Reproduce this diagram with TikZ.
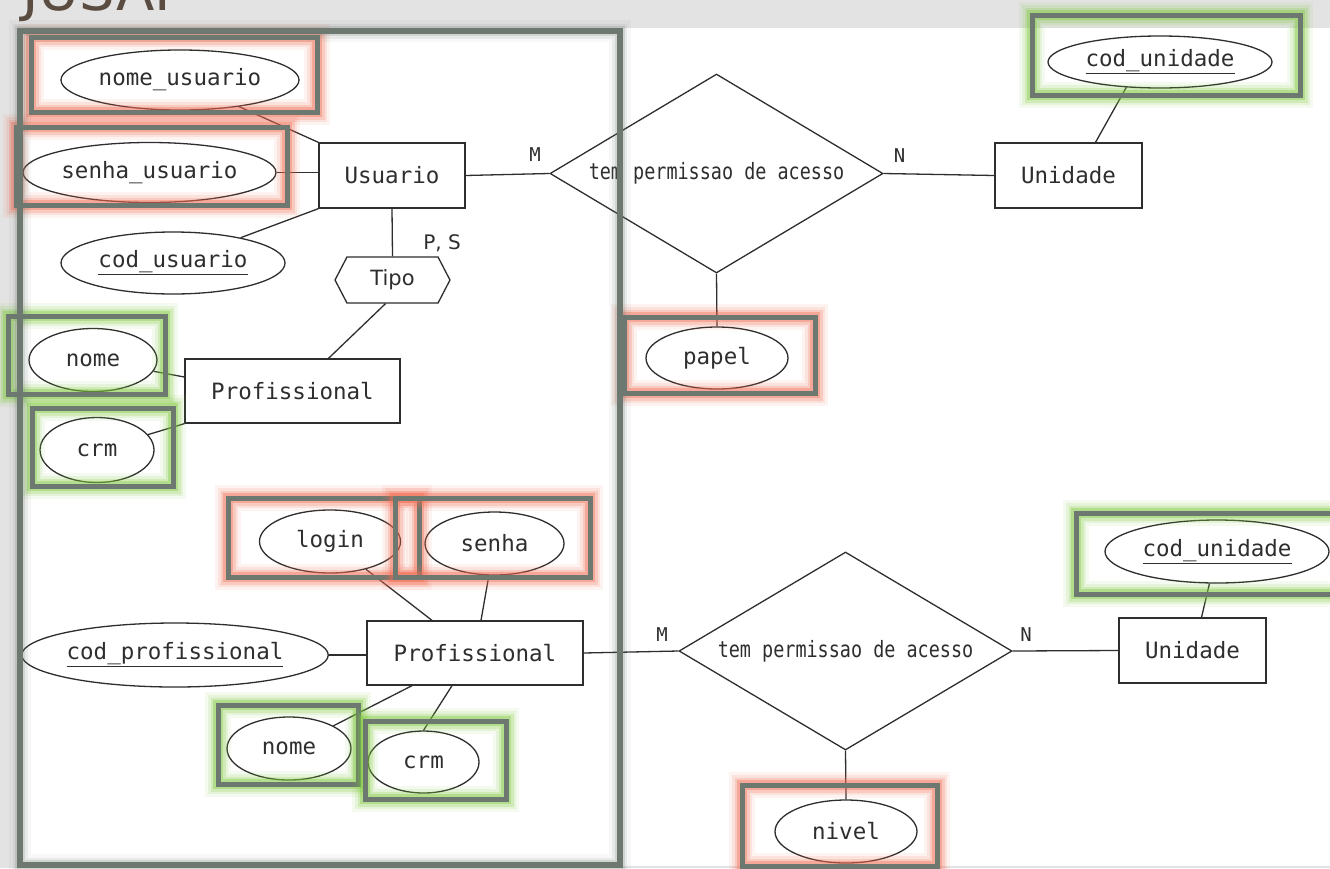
\documentclass[tikz,border=0pt]{standalone}
\usepackage{fontspec}
\newfontfamily\dvm{DejaVu Sans Mono}
\newfontfamily\dvs{DejaVu Sans}
\usetikzlibrary{shapes.geometric,shapes.symbols}
\definecolor{bggray}{HTML}{E3E3E3}
\definecolor{boxgray}{HTML}{6C7870}
\definecolor{glowred}{HTML}{F26A50}
\definecolor{glowgreen}{HTML}{7CC83A}
\definecolor{ink}{HTML}{2E2E2E}
\definecolor{titlebrown}{HTML}{5A4C40}
\tikzset{
  mainfont/.style={font=\dvm\fontsize{22.5}{26}\selectfont},
  attr/.style={ellipse, draw=ink, line width=1.3pt, fill=white, inner sep=0pt, text=ink, mainfont},
  ent/.style={rectangle, draw=ink, line width=1.3pt, fill=white, inner sep=0pt, text=ink, mainfont},
  rel/.style={diamond, draw=ink, line width=1.3pt, fill=white, inner sep=0pt, aspect=1.67, text=ink, mainfont},
  hexa/.style={signal, signal to=west and east, signal pointer angle=125, draw=ink, line width=1.3pt, fill=white, inner sep=0pt, text=ink, font=\dvs\fontsize{21}{24}\selectfont},
  link/.style={draw=ink, line width=1.3pt},
  card/.style={text=ink, inner sep=0pt, font=\dvm\fontsize{19}{22}\selectfont},
  hl/.style={draw=boxgray, line width=5pt,
    preaction={draw=#1, draw opacity=0.08, line width=26pt},
    preaction={draw=#1, draw opacity=0.12, line width=20pt},
    preaction={draw=#1, draw opacity=0.2, line width=15pt},
    preaction={draw=#1, draw opacity=0.35, line width=10pt}},
  bigframe/.style={draw=boxgray, line width=6pt,
    preaction={draw=boxgray, draw opacity=0.06, line width=22pt},
    preaction={draw=boxgray, draw opacity=0.1, line width=15pt},
    preaction={draw=boxgray, draw opacity=0.18, line width=10pt}}
}
\begin{document}
\begin{tikzpicture}[x=1pt,y=-1pt]
\useasboundingbox (0,0) rectangle (1330,868);
\fill[bggray] (0,0) rectangle (1330,868);
\fill[white] (20,28) rectangle (1330,865.5);
\begin{scope}
\clip (0,0) rectangle (1330,27);
\node[font=\dvs\fontsize{56}{60}\selectfont, text=titlebrown, anchor=base west, inner sep=0pt] (title) at (22,10) {JUSAP};
\end{scope}

% ---- upper part ----
\node[attr, minimum width=238pt, minimum height=60pt] (nu) at (180,80) {nome\_usuario};
\node[attr, minimum width=253pt, minimum height=60pt] (su) at (149.5,172.5) {senha\_usuario};
\node[attr, minimum width=224pt, minimum height=62pt] (cu) at (173,263) {\underline{cod\_usuario}};
\node[ent, minimum width=146pt, minimum height=65pt] (usuario) at (392,175.5) {Usuario};
\node[rel, minimum width=333pt, minimum height=199pt] (d1) at (716.5,173.5) {\scalebox{0.82}[1]{tem permissao de acesso}};
\node[ent, minimum width=147pt, minimum height=65pt] (un1) at (1068.5,175.5) {Unidade};
\node[attr, minimum width=224pt, minimum height=52pt] (cu1) at (1160,62) {\underline{cod\_unidade}};
\node[attr, minimum width=142pt, minimum height=62pt] (papel) at (717,358) {papel};
\node[hexa, minimum width=115pt, minimum height=46pt] (tipo) at (392.5,280) {Tipo};
\node[ent, minimum width=215pt, minimum height=64pt] (prof1) at (292.5,391) {Profissional};
\node[attr, minimum width=128pt, minimum height=63pt] (nome1) at (93,360) {nome};
\node[attr, minimum width=114pt, minimum height=65pt] (crm1) at (97,450) {crm};

\node[card] (m1) at (535,155) {M};
\node[card] (n1) at (899.5,155.5) {N};
\node[card, font=\dvs\fontsize{20}{23}\selectfont] (ps) at (442,243) {P, S};

\draw[link] (nu) -- (usuario.north west);
\draw[link] (su.east) -- (su.east -| usuario.west);
\draw[link] (cu) -- (usuario.south west);
\draw[link] (usuario.east) -- (d1.west);
\draw[link] (d1.east) -- (un1.west);
\draw[link] (cu1.-143) -- ([xshift=27pt]un1.north);
\draw[link] (d1.south) -- (papel.north);
\draw[link] (usuario.south) -- (tipo.north);
\draw[link] ([xshift=-7pt]tipo.south) -- ([xshift=36pt]prof1.north);
\draw[link] (nome1) -- ([yshift=14pt]prof1.west);
\draw[link] (crm1) -- (prof1.south west);

% ---- lower part ----
\node[attr, minimum width=141pt, minimum height=63pt] (login) at (330,541.5) {login};
\node[attr, minimum width=139pt, minimum height=63pt] (senha) at (494.5,543.5) {senha};
\node[ent, minimum width=216pt, minimum height=64pt] (prof2) at (475,653) {Profissional};
\node[attr, minimum width=292pt, minimum height=64pt] (codprof) at (175,655) {\underline{cod\_profissional}};
\node[attr, minimum width=124pt, minimum height=63pt] (nome2) at (289,748.5) {nome};
\node[attr, minimum width=111pt, minimum height=62pt] (crm2) at (423.5,762) {crm};
\node[rel, minimum width=333pt, minimum height=198pt] (d2) at (845.5,651) {\scalebox{0.82}[1]{tem permissao de acesso}};
\node[ent, minimum width=147pt, minimum height=65pt] (un2) at (1192.5,650.5) {Unidade};
\node[attr, minimum width=224pt, minimum height=63pt] (cu2) at (1217,551.5) {\underline{cod\_unidade}};
\node[attr, minimum width=142pt, minimum height=63pt] (nivel) at (846,831.5) {nivel};

\node[card] (m2) at (662,635) {M};
\node[card] (n2) at (1026,635) {N};

\draw[link] (login) -- ([xshift=-43pt]prof2.north);
\draw[link] (senha) -- ([xshift=6pt]prof2.north);
\draw[link] (codprof.east) -- (codprof.east -| prof2.west);
\draw[link] ([xshift=-63pt]prof2.south) -- (nome2);
\draw[link] ([xshift=-23pt]prof2.south) -- (crm2.north);
\draw[link] (prof2.east) -- (d2.west);
\draw[link] (d2.east) -- (un2.west);
\draw[link] (cu2) -- ([xshift=9pt]un2.north);
\draw[link] (d2.south) -- (nivel.north);

% ---- highlight boxes ----
\draw[hl=glowred] (31,37) rectangle (317,112);
\draw[hl=glowred] (16,127) rectangle (287,205);
\draw[hl=glowgreen] (8,316) rectangle (165,394);
\draw[hl=glowgreen] (32,408) rectangle (173,486);
\draw[hl=glowred] (624,317) rectangle (815,393);
\draw[hl=glowgreen] (1032,15) rectangle (1300,95);
\draw[hl=glowred] (228,498) rectangle (419,577);
\draw[hl=glowred] (395,498) rectangle (590,577);
\draw[hl=glowgreen] (218,705) rectangle (358,784);
\draw[hl=glowgreen] (365,721) rectangle (506,799);
\draw[hl=glowgreen] (1076,513) rectangle (1345,594);
\draw[hl=glowred] (742,785) rectangle (937,866);

% ---- big frame ----
\draw[bigframe] (20,31) rectangle (619.5,865);
\end{tikzpicture}
\end{document}
